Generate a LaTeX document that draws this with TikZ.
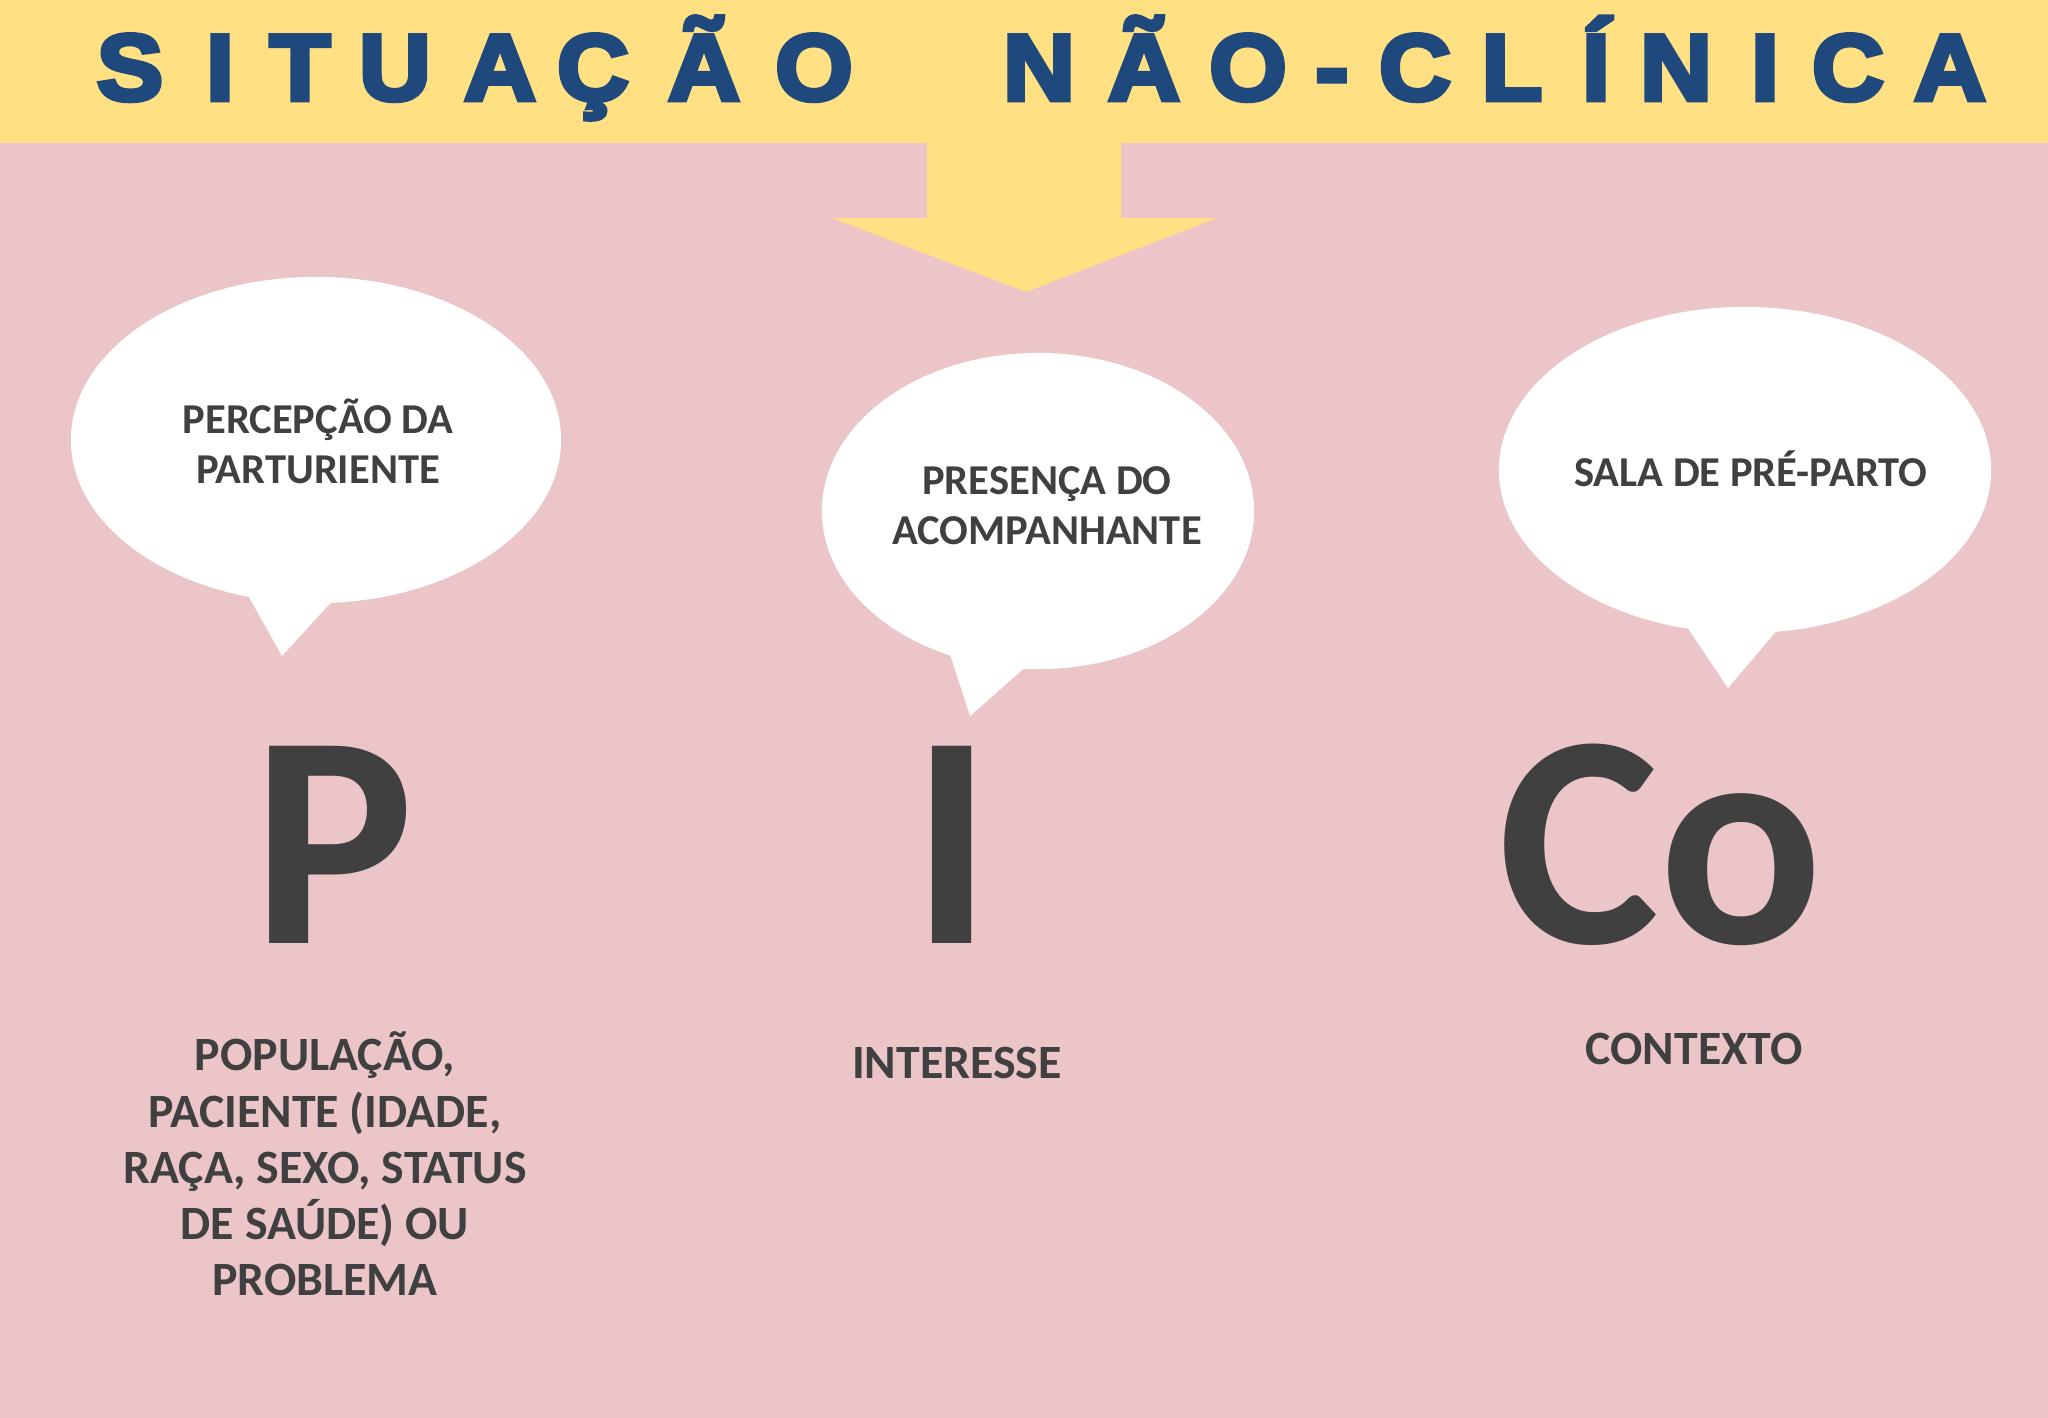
\documentclass[tikz,border=0pt]{standalone}
\usepackage{fontspec}
\setmainfont{Carlito}
\newfontfamily\titleFont{Liberation Sans}[BoldFeatures={FakeBold=5, FakeStretch=1.06}]
\usepackage{tikz}
\usetikzlibrary{shapes.geometric}
\definecolor{bannerYellow}{HTML}{FFE083}
\definecolor{pinkBack}{HTML}{EBC5C7}
\definecolor{titleBlue}{HTML}{1F497D}
\definecolor{textGray}{HTML}{404040}
\tikzstyle{pico} = [x = .01cm, y = -.01cm]
\tikzstyle{bubbleStyle} = [ellipse, fill=white, inner sep=0pt]
\tikzstyle{bubbleText} = [inner sep=0pt, text=textGray, align=center, font=\fontsize{12.1pt}{14.2pt}\selectfont\bfseries]
\tikzstyle{titleLetter} = [anchor=base, inner sep=0pt, text=titleBlue, font=\fontsize{26.7pt}{30pt}\selectfont\titleFont\bfseries]
\tikzstyle{bigLetter} = [anchor=base, inner sep=0pt, text=textGray, font=\fontsize{86.5pt}{90pt}\selectfont\bfseries]
\tikzstyle{picoText} = [inner sep=0pt, text=textGray, align=center, font=\fontsize{13.6pt}{16pt}\selectfont\bfseries]
\newcommand{\speechTail}[6]{\fill [white] (#1,#2) -- (#3,#4) -- (#5,#6) -- cycle;}

\begin{document}
\begin{tikzpicture}[pico]
\useasboundingbox (0,0) rectangle (2048,1418);
\fill [pinkBack] (0,0) rectangle (2048,1418);
\fill [bannerYellow] (0,0) rectangle (2048,143);
\fill [bannerYellow] (927,140) -- (927,218) -- (832,218) -- (1026,292) -- (1217,218) -- (1121,218) -- (1121,140) -- cycle;
\foreach \letter/\letterX in {S/130, I/220, T/300, U/395, A/500, Ç/593, Ã/704, O/814, N/1039, Ã/1144, O/1248, -/1332, C/1415, L/1512, Í/1596, N/1676, I/1765, C/1848, A/1950}
  \node [titleLetter] (title\letterX) at (\letterX,100) {\letter};
% bubbles
\node [bubbleStyle, minimum width=4.9cm, minimum height=3.26cm] (bubbleP) at (316,440) {};
\speechTail{245}{590}{282}{656}{335}{598}
\node [bubbleText] (bubbleTextP) at (318,441) {PERCEPÇÃO DA\\PARTURIENTE};
\node [bubbleStyle, minimum width=4.32cm, minimum height=3.16cm] (bubbleI) at (1038,511) {};
\speechTail{948}{648}{970}{716}{1029}{664}
\node [bubbleText] (bubbleTextI) at (1047,506) {PRESENÇA DO\\ACOMPANHANTE};
\node [bubbleStyle, minimum width=4.92cm, minimum height=3.26cm] (bubbleCo) at (1745,470) {};
\speechTail{1685}{624}{1728}{688}{1779}{628}
\node [bubbleText] (bubbleTextCo) at (1751,469) {SALA DE PRÉ-PARTO};
% letters
\node [bigLetter] (letterP) at (333,943) {P};
\node [bigLetter] (letterI) at (952,943) {I};
\node [bigLetter] (letterCo) at (1661,943) {Co};
\node [picoText] (textP) at (325,1164) {POPULAÇÃO,\\PACIENTE (IDADE,\\RAÇA, SEXO, STATUS\\DE SAÚDE) OU\\PROBLEMA};
\node [picoText] (textI) at (957,1063) {INTERESSE};
\node [picoText] (textCo) at (1694,1049) {CONTEXTO};
\end{tikzpicture}
\end{document}
